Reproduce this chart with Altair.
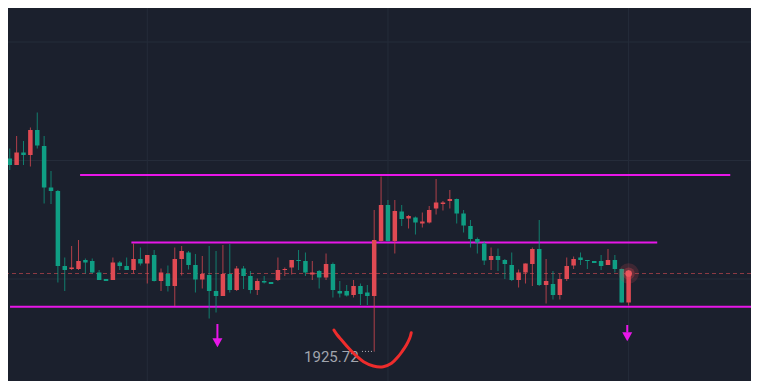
import altair as alt
import pandas as pd

# ---------------- data ----------------
bar_index = list(range(91))
opens = [1964.3, 1963.0, 1965.5, 1965.0, 1970.0, 1966.8, 1958.5, 1957.8, 1942.8, 1942.2,
         1942.2, 1944.0, 1943.8, 1941.5, 1940.2, 1940.0, 1943.5, 1942.8, 1942.0, 1944.2,
         1943.3, 1945.0, 1939.8, 1941.2, 1938.8, 1944.2, 1945.5, 1943.0, 1940.1, 1941.0,
         1937.8, 1936.8, 1941.2, 1938.0, 1942.3, 1940.8, 1938.0, 1939.8, 1939.6, 1940.0,
         1942.0, 1942.5, 1944.0, 1943.8, 1941.1, 1941.8, 1940.5, 1943.2, 1937.8, 1937.8,
         1937.0, 1938.8, 1937.5, 1936.8, 1947.8, 1955.0, 1947.8, 1953.7, 1952.3, 1952.5,
         1951.3, 1951.5, 1954.3, 1955.2, 1955.8, 1956.2, 1953.3, 1950.8, 1948.2, 1947.3,
         1944.0, 1944.8, 1944.0, 1943.0, 1940.0, 1941.5, 1943.2, 1946.2, 1939.0, 1939.2,
         1937.0, 1940.2, 1942.9, 1944.5, 1944.0, 1943.8, 1943.8, 1943.0, 1944.0, 1942.2,
         1935.5]
highs = [1966.3, 1968.8, 1967.8, 1970.5, 1973.5, 1968.8, 1961.8, 1958.0, 1944.5, 1946.8,
         1948.0, 1944.3, 1944.3, 1942.0, 1940.2, 1944.5, 1943.8, 1944.5, 1947.3, 1946.5,
         1945.0, 1946.0, 1942.3, 1942.9, 1946.5, 1946.8, 1945.8, 1945.2, 1944.8, 1946.8,
         1945.8, 1947.0, 1947.2, 1942.8, 1942.8, 1941.8, 1940.3, 1940.8, 1939.6, 1944.5,
         1942.5, 1944.0, 1946.0, 1945.5, 1943.8, 1942.0, 1945.3, 1943.5, 1939.8, 1939.0,
         1940.0, 1939.3, 1939.0, 1954.0, 1960.7, 1956.0, 1956.0, 1955.0, 1953.0, 1952.7,
         1953.5, 1954.8, 1960.2, 1955.8, 1958.0, 1956.3, 1954.0, 1952.0, 1948.5, 1947.8,
         1946.5, 1946.3, 1944.2, 1945.5, 1942.1, 1943.3, 1946.5, 1952.0, 1944.2, 1941.8,
         1941.3, 1944.5, 1944.7, 1945.5, 1944.0, 1943.8, 1945.0, 1946.2, 1945.0, 1942.3,
         1942.0]
lows = [1962.0, 1963.0, 1963.0, 1962.7, 1966.3, 1955.3, 1955.2, 1939.5, 1937.8, 1942.0,
        1942.0, 1941.3, 1941.3, 1940.0, 1939.8, 1940.0, 1942.0, 1942.0, 1941.3, 1942.9,
        1939.3, 1939.7, 1937.8, 1937.7, 1934.8, 1940.9, 1942.1, 1937.5, 1938.3, 1932.3,
        1933.5, 1936.8, 1937.5, 1937.8, 1938.2, 1937.3, 1937.0, 1939.3, 1939.2, 1939.8,
        1940.8, 1941.1, 1942.0, 1940.8, 1940.0, 1938.3, 1940.0, 1936.5, 1936.5, 1936.7,
        1936.5, 1935.0, 1935.0, 1925.72, 1947.7, 1947.7, 1945.3, 1950.8, 1950.3, 1949.1,
        1950.5, 1951.3, 1953.1, 1953.9, 1954.3, 1951.3, 1949.5, 1946.5, 1945.3, 1943.0,
        1942.0, 1941.8, 1940.2, 1939.8, 1938.5, 1939.3, 1938.8, 1938.8, 1935.3, 1936.1,
        1936.1, 1939.8, 1942.2, 1943.0, 1942.2, 1943.4, 1942.0, 1943.0, 1941.5, 1935.5,
        1934.9]
closes = [1963.0, 1965.5, 1965.0, 1970.0, 1966.9, 1958.5, 1957.8, 1942.8, 1942.0, 1942.5,
          1943.8, 1943.5, 1941.5, 1940.0, 1939.8, 1943.5, 1942.8, 1942.0, 1944.2, 1943.3,
          1945.0, 1939.8, 1941.5, 1938.8, 1944.2, 1945.8, 1943.0, 1940.1, 1941.2, 1937.8,
          1936.8, 1941.2, 1938.0, 1942.3, 1940.8, 1938.0, 1939.8, 1939.5, 1939.2, 1942.0,
          1942.2, 1944.0, 1943.8, 1941.5, 1941.5, 1940.5, 1943.2, 1938.0, 1937.3, 1936.9,
          1938.8, 1937.2, 1936.8, 1948.0, 1955.0, 1947.8, 1953.8, 1952.2, 1952.8, 1951.5,
          1951.7, 1954.0, 1955.5, 1955.5, 1956.2, 1953.3, 1950.9, 1948.2, 1947.5, 1943.9,
          1944.8, 1944.0, 1943.2, 1940.0, 1941.5, 1943.3, 1946.2, 1939.0, 1939.8, 1937.0,
          1940.2, 1942.8, 1944.2, 1944.0, 1943.8, 1943.4, 1942.8, 1944.0, 1942.2, 1935.5,
          1941.3]

# drawn horizontal levels (magenta)
level_start = [10.23, 17.69, 0.04]
level_end = [104.78, 94.16, 108.22]
level_price = [1961.0, 1947.5, 1934.66]

# chart grid
grid_prices = [1987.6, 1963.9, 1940.2]
grid_bars = [20, 55, 90]

# low marker
low_label = "1925.72"
low_value = 1925.72
low_bar = 53
low_label_bar = 50.73
low_label_price = 1923.66
low_dots_start = 51.22

# hand-drawn red curve
curve_bar = [47.14, 47.63, 48.35, 49.30, 50.26, 51.45, 52.88, 54.32, 55.52, 56.47, 57.04, 57.68, 58.16, 58.39]
curve_price = [1930.0, 1929.0, 1927.86, 1926.34, 1925.0, 1923.66, 1922.8, 1922.66, 1923.34, 1924.66,
               1925.66, 1927.0, 1928.34, 1929.46]

# magenta down arrows
arrow_bar = [30.2, 89.8]
arrow_top = [1931.2, 1931.0]
arrow_neck = [1928.2, 1929.5]
arrow_head = [1927.44, 1928.66]

# ---------------- styling ----------------
BG = "#1b202d"
GRID = "#252c3a"
RED = "#e04a53"
TEAL = "#0f9e84"
MAG = "#e816e8"
X_DOMAIN = [0.473, 107.07]
Y_DOMAIN = [1919.8, 1994.4]

xs = alt.Scale(domain=X_DOMAIN, nice=False, zero=False)
ys = alt.Scale(domain=Y_DOMAIN, nice=False, zero=False)

df = pd.DataFrame({"i": bar_index, "o": opens, "h": highs, "l": lows, "c": closes})
df["top"] = df[["o", "c"]].max(axis=1)
df["bot"] = df[["o", "c"]].min(axis=1)
df["dir"] = ["up" if c >= o else "down" for o, c in zip(opens, closes)]

color = alt.Color("dir:N", scale=alt.Scale(domain=["up", "down"], range=[RED, TEAL]), legend=None)

grid_h = alt.Chart(pd.DataFrame({"p": grid_prices})).mark_rule(color=GRID, strokeWidth=1).encode(
    y=alt.Y("p:Q", scale=ys, axis=None))
grid_v = alt.Chart(pd.DataFrame({"i": grid_bars})).mark_rule(color=GRID, strokeWidth=1).encode(
    x=alt.X("i:Q", scale=xs, axis=None))

price_line = alt.Chart(pd.DataFrame({"p": [closes[-1]]})).mark_rule(
    color="#8c3a43", strokeDash=[4, 3], strokeWidth=1).encode(y=alt.Y("p:Q", scale=ys, axis=None))

levels = alt.Chart(pd.DataFrame({"a": level_start, "b": level_end, "p": level_price})).mark_rule(
    color=MAG, strokeWidth=2, clip=True).encode(
    x=alt.X("a:Q", scale=xs, axis=None), x2="b:Q", y=alt.Y("p:Q", scale=ys, axis=None))

wicks = alt.Chart(df).mark_rule(strokeWidth=1, opacity=0.75, clip=True).encode(
    x=alt.X("i:Q", scale=xs, axis=None),
    y=alt.Y("l:Q", scale=ys, axis=None), y2="h:Q", color=color)

bodies = alt.Chart(df).mark_bar(size=4.5, clip=True).encode(
    x=alt.X("i:Q", scale=xs, axis=None),
    y=alt.Y("top:Q", scale=ys, axis=None), y2="bot:Q", color=color)

low_dots = alt.Chart(pd.DataFrame({"a": [low_dots_start], "b": [low_bar], "p": [low_value]})).mark_rule(
    color="#b5b8c0", strokeWidth=1, strokeDash=[1, 2]).encode(
    x=alt.X("a:Q", scale=xs, axis=None), x2="b:Q", y=alt.Y("p:Q", scale=ys, axis=None))

low_text = alt.Chart(pd.DataFrame({"x": [low_label_bar], "p": [low_label_price], "t": [low_label]})).mark_text(
    align="right", baseline="alphabetic", font="Roboto", fontSize=15, color="#a2a5ae").encode(
    x=alt.X("x:Q", scale=xs, axis=None), y=alt.Y("p:Q", scale=ys, axis=None), text="t:N")

curve = alt.Chart(pd.DataFrame({"x": curve_bar, "p": curve_price})).mark_line(
    color="#ee2c2c", strokeWidth=3, interpolate="cardinal", strokeCap="round", strokeJoin="round").encode(
    x=alt.X("x:Q", scale=xs, axis=None), y=alt.Y("p:Q", scale=ys, axis=None))

adf = pd.DataFrame({"x": arrow_bar, "top": arrow_top, "neck": arrow_neck, "head": arrow_head})
arrow_shaft = alt.Chart(adf).mark_rule(color=MAG, strokeWidth=2).encode(
    x=alt.X("x:Q", scale=xs, axis=None), y=alt.Y("top:Q", scale=ys, axis=None), y2="neck:Q")
arrow_tip = alt.Chart(adf).mark_point(
    shape="M-1,-0.9L1,-0.9L0,0.9Z", size=100, filled=True, color=MAG, opacity=1, strokeWidth=0).encode(
    x=alt.X("x:Q", scale=xs, axis=None), y=alt.Y("head:Q", scale=ys, axis=None))

glow_df = pd.DataFrame({"x": [bar_index[-1]], "p": [closes[-1]]})
glow_outer = alt.Chart(glow_df).mark_circle(color=RED, size=420, opacity=0.18).encode(
    x=alt.X("x:Q", scale=xs, axis=None), y=alt.Y("p:Q", scale=ys, axis=None))
glow_mid = alt.Chart(glow_df).mark_circle(color=RED, size=150, opacity=0.3).encode(
    x=alt.X("x:Q", scale=xs, axis=None), y=alt.Y("p:Q", scale=ys, axis=None))
glow_core = alt.Chart(glow_df).mark_circle(color="#f0565e", size=45, opacity=0.95).encode(
    x=alt.X("x:Q", scale=xs, axis=None), y=alt.Y("p:Q", scale=ys, axis=None))

chart = alt.layer(
    grid_h, grid_v, price_line, levels, wicks, bodies, low_dots, low_text, curve,
    arrow_shaft, arrow_tip, glow_outer, glow_mid, glow_core
).properties(
    width=743, height=373, padding=0, background=BG,
    autosize=alt.AutoSizeParams(type="none"),
).configure_view(strokeWidth=0)

chart.save("out.html", embed_options={"renderer": "svg", "actions": False})
